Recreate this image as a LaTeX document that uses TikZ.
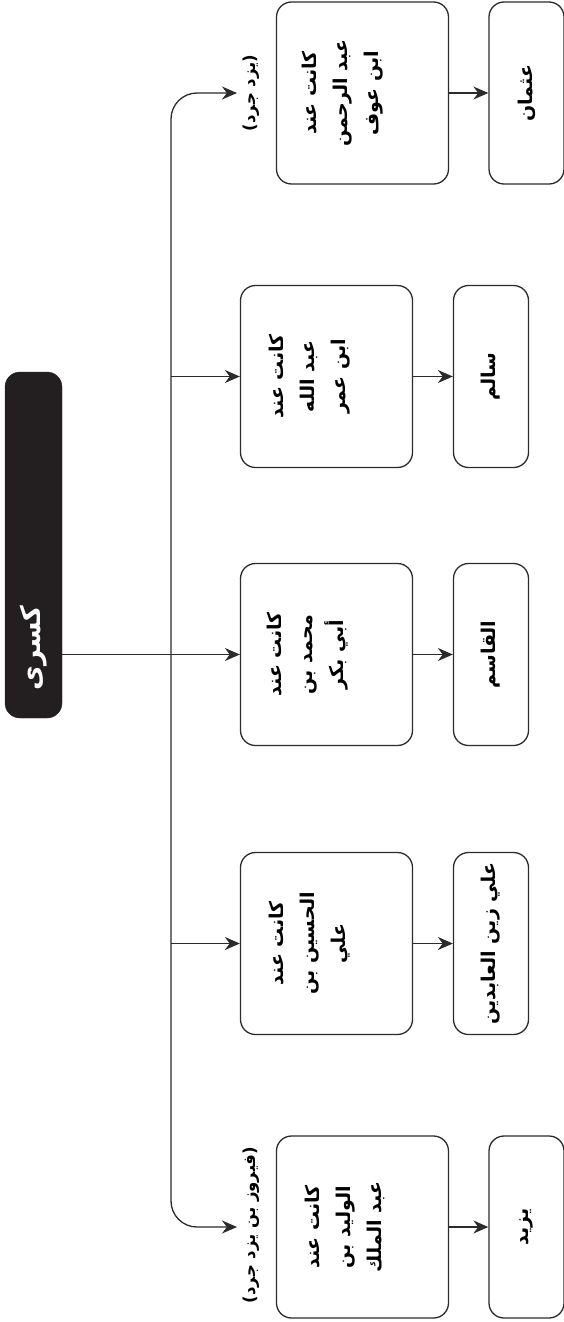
\documentclass[tikz,border=0pt]{standalone}
\usepackage{fontspec}
\usetikzlibrary{arrows.meta}
\TeXXeTstate=1
\newfontfamily\arabicfont[Script=Arabic]{DejaVu Sans}
\newfontfamily\plainfont{DejaVu Sans}
\newcommand{\AR}[1]{\beginR #1\endR}
\definecolor{linegray}{HTML}{2B2B2B}
\definecolor{kisrafill}{HTML}{231F20}
\begin{document}
\begin{tikzpicture}[x=1pt,y=-1pt,
  box/.style={draw=linegray, line width=1.3pt, rounded corners=15pt, inner sep=0pt},
  bigbox/.style={box, minimum width=172pt, minimum height=182pt},
  childbox/.style={box, minimum width=75pt, minimum height=182pt},
  txt/.style={font=\arabicfont\bfseries\fontsize{19}{31}\selectfont, align=center, inner sep=0pt, rotate=90},
  lbl/.style={font=\arabicfont\bfseries\fontsize{16.5}{18}\selectfont, inner sep=0pt, rotate=90},
  conn/.style={draw=linegray, line width=1.3pt, -{Stealth[length=15pt,width=13pt]}}
]
\useasboundingbox (0,0) rectangle (564,1322);

% root
\node[draw=kisrafill, fill=kisrafill, rounded corners=15pt, minimum width=57pt, minimum height=346pt, inner sep=0pt] (k) at (33.5,545) {};
\node[font=\arabicfont\bfseries\fontsize{27}{30}\selectfont, text=white, rotate=90, inner sep=0pt] (kt) at (34,648) {\AR{كسرى}};

% level 1 boxes
\node[bigbox] (b1) at (362.5,93) {};
\node[bigbox] (b2) at (326.5,376.5) {};
\node[bigbox] (b3) at (326.5,654.5) {};
\node[bigbox] (b4) at (326.5,943.5) {};
\node[bigbox] (b5) at (362.5,1227) {};

\node[txt] (b1t) at (343,93) {\AR{كانت عند}\\\AR{عبد الرحمن}\\\AR{ابن عوف}};
\node[txt] (b2t) at (310,376.5) {\AR{كانت عند}\\\AR{عبد الله}\\\AR{ابن عمر}};
\node[txt] (b3t) at (308,654.5) {\AR{كانت عند}\\\AR{محمد بن}\\\AR{أبي بكر}};
\node[txt] (b4t) at (310,943.5) {\AR{كانت عند}\\\AR{الحسين بن}\\\AR{علي}};
\node[txt] (b5t) at (345,1227) {\AR{كانت عند}\\\AR{الوليد بن}\\\AR{عبد الملك}};

% level 2 boxes
\node[childbox] (c1) at (526.5,93) {};
\node[childbox] (c2) at (491,376.5) {};
\node[childbox] (c3) at (491,654.5) {};
\node[childbox] (c4) at (491,943.5) {};
\node[childbox] (c5) at (526.5,1227) {};

\node[txt] (c1t) at (c1) {\AR{عثمان}};
\node[txt] (c2t) at (c2) {\AR{سالم}};
\node[txt] (c3t) at (c3) {\AR{القاسم}};
\node[txt] (c4t) at (c4) {\AR{علي زين العابدين}};
\node[txt] (c5t) at (c5) {\AR{يزيد}};

% labels
\node[lbl] (l1) at (251,93) {{\plainfont(}\AR{يزد جرد}{\plainfont)}};
\node[lbl] (l5) at (251,1225) {{\plainfont(}\AR{فيروز بن يزد جرد}{\plainfont)}};

% trunk coordinates
\coordinate (jm) at (171,654.5);
\coordinate (j2) at (171,376.5);
\coordinate (j4) at (171,943.5);
\coordinate (t1) at (237,93);
\coordinate (t5) at (237,1227);

% connectors
\draw[conn] (k.east |- b3.west) -- (b3.west);
\draw[conn, rounded corners=26pt] (jm) |- (t1);
\draw[conn, rounded corners=26pt] (jm) |- (t5);
\draw[conn] (j2) -- (b2.west);
\draw[conn] (j4) -- (b4.west);

\draw[conn] (b1.east) -- (c1.west);
\draw[conn] (b2.east) -- (c2.west);
\draw[conn] (b3.east) -- (c3.west);
\draw[conn] (b4.east) -- (c4.west);
\draw[conn] (b5.east) -- (c5.west);
\end{tikzpicture}
\end{document}
